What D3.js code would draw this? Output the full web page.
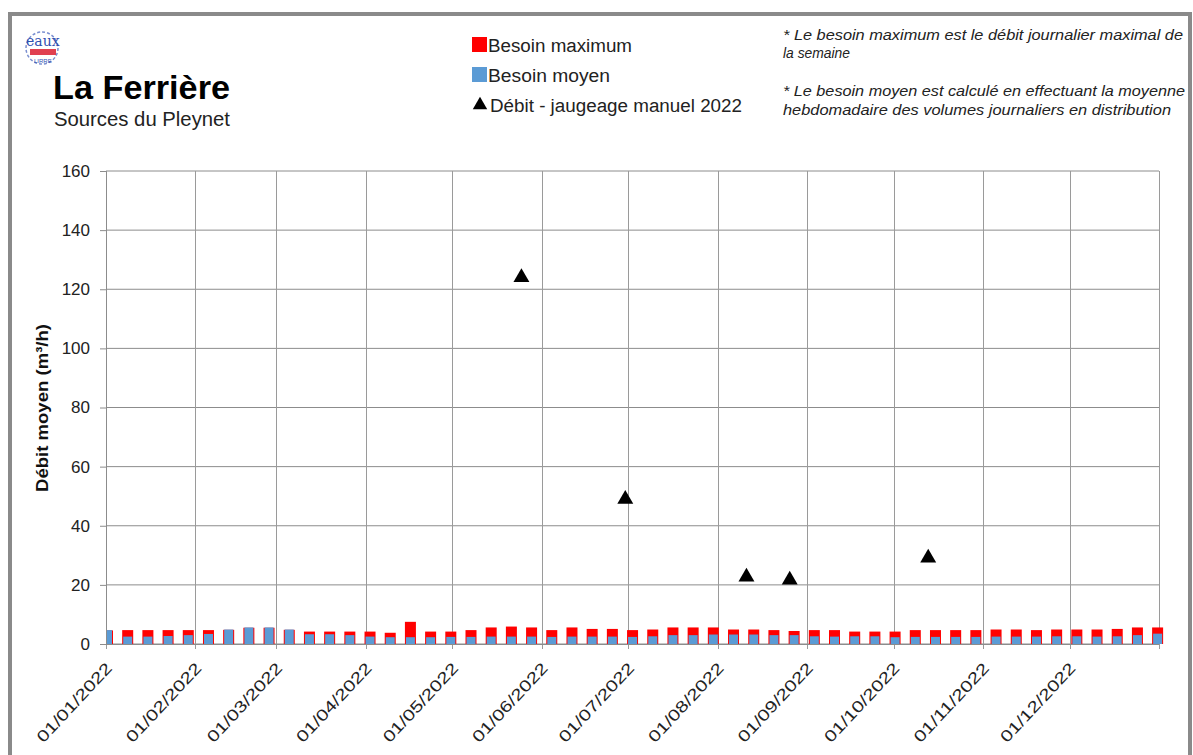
<!DOCTYPE html>
<html>
<head>
<meta charset="utf-8">
<script src="https://cdn.jsdelivr.net/npm/d3@7"></script>
<style>
  body { margin: 0; background: #fff; }
  svg { display: block; font-family: Arial, "Liberation Sans", sans-serif; }
</style>
</head>
<body>
<div class="chart"></div>
<script>
// page size
var width = 1193;
var height = 755;
var plot = { left: 106, right: 1159, top: 171, bottom: 644 };

// weekly categories (day/month 2022)
var weeks = [
  "01/01","08/01","15/01","22/01","29/01",
  "05/02","12/02","19/02","26/02",
  "05/03","12/03","19/03","26/03",
  "02/04","09/04","16/04","23/04","30/04",
  "07/05","14/05","21/05","28/05",
  "04/06","11/06","18/06","25/06",
  "02/07","09/07","16/07","23/07","30/07",
  "06/08","13/08","20/08","27/08",
  "03/09","10/09","17/09","24/09",
  "01/10","08/10","15/10","22/10","29/10",
  "05/11","12/11","19/11","26/11",
  "03/12","10/12","17/12","24/12","31/12"
];
// besoin maximum (m3/h)
var besoinMax = [
  4.6, 4.7, 4.7, 4.7, 4.7,
  4.7, 4.8, 5.5, 5.5,
  4.8, 4.2, 4.2, 4.2,
  4.2, 3.8, 7.5, 4.2, 4.2,
  4.7, 5.6, 5.9, 5.6,
  4.7, 5.6, 5.1, 5.1,
  4.7, 4.9, 5.6, 5.6, 5.6,
  4.9, 4.9, 4.7, 4.4,
  4.7, 4.7, 4.2, 4.2,
  4.2, 4.7, 4.7, 4.7, 4.7,
  4.9, 4.9, 4.7, 4.9,
  4.9, 4.9, 5.1, 5.6, 5.6
];
// besoin moyen (m3/h)
var besoinMoyen = [
  4.7, 2.5, 2.5, 2.7, 3.0,
  3.4, 4.9, 5.6, 5.6,
  4.9, 3.3, 3.3, 3.0,
  2.5, 2.3, 2.3, 2.3, 2.4,
  2.4, 2.5, 2.5, 2.5,
  2.4, 2.5, 2.5, 2.5,
  2.4, 2.6, 3.0, 3.0, 3.2,
  3.2, 3.2, 3.0, 3.0,
  2.6, 2.5, 2.6, 2.6,
  2.3, 2.4, 2.4, 2.4, 2.4,
  2.5, 2.5, 2.5, 2.6,
  2.6, 2.5, 2.6, 3.0, 3.5
];
// jaugeage manuel
var jaugeDates = ["25/05", "30/06", "11/08", "26/08", "13/10"];
var jaugeValues = [124, 49, 22.7, 21.7, 29.1];

var yTicks = [0, 20, 40, 60, 80, 100, 120, 140, 160];

var parse = d3.timeParse("%d/%m/%Y");
var fmt = d3.timeFormat("%d/%m/%Y");

const svg = d3.select(".chart")
  .append("svg")
  .attr("width", width)
  .attr("height", height);

// outer frame
svg.append("rect")
  .attr("x", 10).attr("y", 14)
  .attr("width", 1180).attr("height", 760)
  .attr("fill", "#fff")
  .attr("stroke", "#8a8a8a")
  .attr("stroke-width", 4);

var x = d3.scaleTime()
  .domain([parse("01/01/2022"), parse("01/01/2023")])
  .range([plot.left, plot.right]);
var y = d3.scaleLinear()
  .domain([0, 160])
  .range([plot.bottom, plot.top]);

// grid
svg.append("g")
  .selectAll("line")
  .data(yTicks)
  .enter().append("line")
  .attr("x1", plot.left).attr("x2", plot.right)
  .attr("y1", d => y(d)).attr("y2", d => y(d))
  .attr("stroke", "#8c8c8c").attr("stroke-width", 1);

var months = d3.timeMonth.range(parse("01/01/2022"), parse("01/01/2023"));
svg.append("g")
  .selectAll("line")
  .data(months.concat([parse("01/01/2023")]))
  .enter().append("line")
  .attr("x1", d => Math.round(x(d)) + 0.5).attr("x2", d => Math.round(x(d)) + 0.5)
  .attr("y1", plot.top).attr("y2", plot.bottom + 5)
  .attr("stroke", "#9a9a9a").attr("stroke-width", 1);

// bars
var barW = 11;
var bars = svg.append("g");
bars.selectAll("rect.max")
  .data(weeks)
  .enter().append("rect")
  .attr("class", "max")
  .attr("x", d => x(parse(d + "/2022")) + 1.5 - barW / 2)
  .attr("y", (d, i) => y(besoinMax[i]))
  .attr("width", barW)
  .attr("height", (d, i) => y(0) - y(besoinMax[i]))
  .attr("fill", "#ff0000");
bars.selectAll("rect.moy")
  .data(weeks)
  .enter().append("rect")
  .attr("class", "moy")
  .attr("x", d => x(parse(d + "/2022")) + 1.5 - barW / 2 + 1)
  .attr("y", (d, i) => y(besoinMoyen[i]))
  .attr("width", barW - 2)
  .attr("height", (d, i) => y(0) - y(besoinMoyen[i]))
  .attr("fill", "#5b9bd5");

// clip first bar at axis
svg.append("rect")
  .attr("x", 90).attr("y", plot.bottom - 30)
  .attr("width", plot.left - 90).attr("height", 30)
  .attr("fill", "#fff");

// y axis
const yAxis = d3.axisLeft(y).tickValues(yTicks).tickSize(6).tickPadding(10);
svg.append("g")
  .attr("transform", "translate(" + plot.left + ",0)")
  .call(yAxis)
  .call(g => g.select(".domain").attr("stroke", "#8c8c8c"))
  .call(g => g.selectAll(".tick line").attr("stroke", "#8c8c8c"))
  .call(g => g.selectAll(".tick text")
    .attr("fill", "#222")
    .style("font-size", "17px")
    .style("font-family", "Arial, 'Liberation Sans', sans-serif"));

// x axis line
svg.append("line")
  .attr("x1", plot.left).attr("x2", plot.right)
  .attr("y1", plot.bottom + 0.5).attr("y2", plot.bottom + 0.5)
  .attr("stroke", "#8c8c8c");

// x labels
svg.append("g")
  .selectAll("text")
  .data(months)
  .enter().append("text")
  .attr("transform", d => "translate(" + (x(d) + 7) + "," + 669 + ") rotate(-47)")
  .attr("text-anchor", "end")
  .attr("fill", "#222")
  .style("font-size", "16px")
  .attr("textLength", 102)
  .attr("lengthAdjust", "spacingAndGlyphs")
  .text(d => fmt(d));

// y title
svg.append("text")
  .attr("transform", "translate(48,408) rotate(-90)")
  .attr("text-anchor", "middle")
  .attr("fill", "#111")
  .style("font-size", "17px")
  .style("font-weight", "bold")
  .attr("textLength", 168)
  .attr("lengthAdjust", "spacingAndGlyphs")
  .text("Débit moyen (m³/h)");

// triangles
var tri = d3.symbol().type(d3.symbolTriangle).size(110);
svg.append("g")
  .selectAll("path")
  .data(jaugeDates)
  .enter().append("path")
  .attr("d", tri)
  .attr("transform", (d, i) => "translate(" + x(parse(d + "/2022")) + "," + y(jaugeValues[i]) + ")")
  .attr("fill", "#000");

// logo
var logo = svg.append("g").attr("transform", "translate(22,28)");
logo.append("circle").attr("cx", 20).attr("cy", 20).attr("r", 16)
  .attr("fill", "none").attr("stroke", "#7a8fd0").attr("stroke-width", 1.5).attr("stroke-dasharray", "3,2");
logo.append("text").attr("x", 4).attr("y", 18)
  .attr("fill", "#3050b0").style("font-size", "14px").style("font-family", "'DejaVu Serif', serif").text("eaux");
logo.append("rect").attr("x", 8).attr("y", 21).attr("width", 26).attr("height", 6).attr("fill", "#e04050");
logo.append("text").attr("x", 12).attr("y", 35)
  .attr("fill", "#3050b0").style("font-size", "6px").text("LIRRE");

// titles
svg.append("text").attr("x", 53).attr("y", 99)
  .attr("fill", "#000").style("font-size", "33px").style("font-weight", "bold")
  .attr("textLength", 177).attr("lengthAdjust", "spacingAndGlyphs")
  .text("La Ferrière");
svg.append("text").attr("x", 54).attr("y", 126)
  .attr("fill", "#222").style("font-size", "20px")
  .attr("textLength", 176).attr("lengthAdjust", "spacingAndGlyphs")
  .text("Sources du Pleynet");

// legend
var legend = svg.append("g");
var legText = function (tx, ty, len, s) {
  legend.append("text").attr("x", tx).attr("y", ty)
    .style("font-size", "18px").attr("fill", "#222")
    .attr("textLength", len).attr("lengthAdjust", "spacingAndGlyphs")
    .text(s);
};
legend.append("rect").attr("x", 472).attr("y", 37).attr("width", 15).attr("height", 15).attr("fill", "#ff0000");
legText(488, 52, 144, "Besoin maximum");
legend.append("rect").attr("x", 472).attr("y", 67).attr("width", 15).attr("height", 15).attr("fill", "#5b9bd5");
legText(488, 82, 122, "Besoin moyen");
legend.append("path").attr("d", d3.symbol().type(d3.symbolTriangle).size(90))
  .attr("transform", "translate(480,105)").attr("fill", "#000");
legText(490, 112, 252, "Débit - jaugeage manuel 2022");

// notes
var notes = [
  ["* Le besoin maximum est le débit journalier maximal de", 40, 400],
  ["la semaine", 58, 67],
  ["* Le besoin moyen est calculé en effectuant la moyenne", 96, 402],
  ["hebdomadaire des volumes journaliers en distribution", 115, 388]
];
notes.forEach(function (n) {
  svg.append("text").attr("x", 783).attr("y", n[1])
    .attr("fill", "#222").style("font-size", "14px").style("font-style", "italic")
    .attr("textLength", n[2]).attr("lengthAdjust", "spacingAndGlyphs")
    .text(n[0]);
});
</script>
</body>
</html>
